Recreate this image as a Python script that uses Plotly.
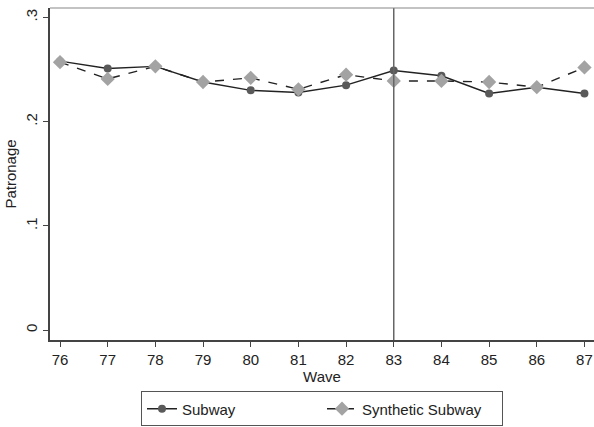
import plotly.graph_objects as go

waves = [76, 77, 78, 79, 80, 81, 82, 83, 84, 85, 86, 87]
subway = [0.258, 0.251, 0.253, 0.238, 0.230, 0.228, 0.235, 0.249, 0.244, 0.227, 0.233, 0.227]
synthetic = [0.257, 0.241, 0.253, 0.238, 0.242, 0.231, 0.245, 0.239, 0.239, 0.238, 0.233, 0.252]
ytick_vals = [0, 0.1, 0.2, 0.3]
ytick_text = ["0", ".1", ".2", ".3"]
treatment_wave = 83

font = "Liberation Sans, Arial, sans-serif"

fig = go.Figure()
fig.add_trace(go.Scatter(
    x=waves, y=subway, name="Subway", mode="lines+markers",
    line=dict(color="#222222", width=1.4),
    marker=dict(symbol="circle", size=8, color="#5a5a5a"),
))
fig.add_trace(go.Scatter(
    x=waves, y=synthetic, name="Synthetic Subway", mode="lines+markers",
    line=dict(color="#222222", width=1.4, dash="dash"),
    marker=dict(symbol="diamond", size=11, color="#a3a3a3"),
))
fig.add_vline(x=treatment_wave, line=dict(color="#666666", width=1.5))
# top border of plot region
fig.add_shape(type="line", xref="paper", yref="paper", x0=0, x1=1, y0=1, y1=1,
              line=dict(color="#888888", width=1.2))

fig.update_layout(
    width=594, height=427,
    margin=dict(l=50, r=0, t=8, b=84),
    paper_bgcolor="white", plot_bgcolor="white",
    font=dict(family=font, size=15, color="#222222"),
    showlegend=True,
    legend=dict(
        orientation="h", x=0.5, xanchor="center", y=-0.155, yanchor="top",
        bordercolor="#555555", borderwidth=1, font=dict(size=15),
        entrywidth=135, entrywidthmode="pixels",
    ),
    xaxis=dict(
        range=[75.79, 87.2], tickvals=waves, ticks="outside", ticklen=5,
        tickcolor="#444444", showgrid=False, zeroline=False,
        showline=True, linecolor="#444444", linewidth=1.5,
        title=dict(text="Wave", standoff=0, font=dict(size=15)),
        tickfont=dict(size=15),
    ),
    yaxis=dict(
        range=[-0.0095, 0.309], tickvals=ytick_vals, ticktext=ytick_text,
        ticks="outside", ticklen=5, tickcolor="#444444", tickangle=-90,
        showgrid=False, zeroline=False,
        showline=True, linecolor="#444444", linewidth=1.5,
        title=dict(text="Patronage", standoff=3, font=dict(size=15)),
        tickfont=dict(size=15),
    ),
)

fig.write_html("out.html")
